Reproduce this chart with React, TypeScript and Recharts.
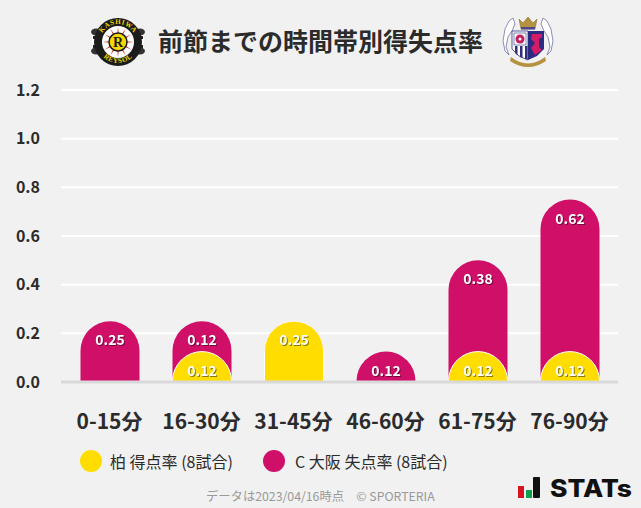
import { BarChart, Bar, XAxis, YAxis, CartesianGrid, LabelList } from "recharts";

const FONT = '"Noto Sans CJK JP", "Noto Sans", sans-serif';

const categories = ["0-15分", "16-30分", "31-45分", "46-60分", "61-75分", "76-90分"];
const kashiwaRate = [0, 0.125, 0.25, 0, 0.125, 0.125];
const osakaRate = [0.25, 0.125, 0, 0.125, 0.375, 0.625];
const kashiwaLabels = ["", "0.12", "0.25", "", "0.12", "0.12"];
const osakaLabels = ["0.25", "0.12", "", "0.12", "0.38", "0.62"];
const yTicks = [0, 0.2, 0.4, 0.6, 0.8, 1.0, 1.2];

const YELLOW = "#ffdd00";
const MAGENTA = "#cf0f68";
const BAR_WIDTH = 59;

// osaka bar runs from zero behind the yellow one, so it holds the stacked total
const rows = categories.map((name, i) => ({
  name,
  kashiwa: kashiwaRate[i],
  total: kashiwaRate[i] + osakaRate[i],
  kashiwaLabel: kashiwaLabels[i],
  osakaLabel: osakaLabels[i],
}));

const BarLabel = (props: any) => {
  const { x, y, width, value } = props;
  if (!value) return null;
  return (
    <text
      x={x + width / 2}
      y={y + 24}
      textAnchor="middle"
      fontFamily={FONT}
      fontSize={14}
      fontWeight={700}
      fill="#fff"
      style={{ filter: "drop-shadow(1px 1px 0.5px rgba(0,0,0,0.45))" }}
    >
      {value}
    </text>
  );
};

const BarTop = (props: any) => {
  const { x, y, width, height, fill, stroke } = props;
  if (!height || height <= 0) return null;
  const r = Math.min(width / 2, height);
  const rx = width / 2;
  return (
    <path
      d={`M${x},${y + height}V${y + r}A${rx},${r} 0 0 1 ${x + width},${y + r}V${y + height}`}
      fill={fill}
      stroke={stroke}
      strokeWidth={stroke ? 1 : 0}
    />
  );
};

const rayAngles = [0, 30, 60, 90, 120, 150, 180, 210, 240, 270, 300, 330];

const KashiwaLogo = () => (
  <svg width={56} height={50} viewBox="0 0 56 50" style={{ position: "absolute", left: 90, top: 17 }}>
    <rect x={2} y={17} width={52} height={16} fill="#fff" />
    <ellipse cx={6} cy={15} rx={5} ry={3.5} fill="#333" />
    <ellipse cx={50} cy={15} rx={5} ry={3.5} fill="#333" />
    <ellipse cx={6} cy={34} rx={5} ry={3.5} fill="#333" />
    <ellipse cx={50} cy={34} rx={5} ry={3.5} fill="#333" />
    <rect x={3} y={19} width={50} height={3} fill="#222" />
    <rect x={3} y={28} width={50} height={3} fill="#222" />
    <circle cx={28} cy={25} r={24} fill="#1c1c1c" />
    <path id="kashiwaTop" d="M10,25 A18,18 0 0 1 46,25" fill="none" />
    <path id="kashiwaBottom" d="M7,25 A21,21 0 0 0 49,25" fill="none" />
    <text fontFamily="Liberation Serif" fontWeight={700} fontSize={7} fill="#f5d800" letterSpacing={0.6}>
      <textPath href="#kashiwaTop" startOffset="50%" textAnchor="middle">KASHIWA</textPath>
    </text>
    <text fontFamily="Liberation Serif" fontWeight={700} fontSize={7} fill="#f5d800" letterSpacing={0.6}>
      <textPath href="#kashiwaBottom" startOffset="50%" textAnchor="middle">REYSOL</textPath>
    </text>
    <circle cx={28} cy={25} r={16} fill="#fff" />
    {rayAngles.map((a) => (
      <path key={a} d="M26.5,25 L28,9.5 L29.5,25 Z" fill="#c8281e" transform={`rotate(${a} 28 25)`} />
    ))}
    <circle cx={28} cy={25} r={9} fill="#f5d800" stroke="#1c1c1c" strokeWidth={1.5} />
    <text x={28} y={30} textAnchor="middle" fontFamily="Liberation Serif" fontWeight={700} fontSize={14} fill="#1c1c1c">R</text>
  </svg>
);

const OsakaLogo = () => (
  <svg width={52} height={54} viewBox="0 0 52 54" style={{ position: "absolute", left: 502, top: 15 }}>
    <path d="M7,6 L11,3 L13,9 L10,16 L6,22 L4,32 L7,40 L3,36 L1,26 L3,14 Z" fill="#fff" stroke="#6f73a8" strokeWidth={0.8} />
    <path d="M45,6 L41,3 L39,9 L42,16 L46,22 L48,32 L45,40 L49,36 L51,26 L49,14 Z" fill="#fff" stroke="#6f73a8" strokeWidth={0.8} />
    <path d="M17,4 L21,8 L26,2 L31,8 L35,4 L33,14 H19 Z" fill="#b4923f" stroke="#7d6528" strokeWidth={0.5} />
    <rect x={19} y={12} width={14} height={2.5} fill="#4a4a8a" />
    <path d="M10,16 H26 V45 L17,41 L10,34 Z" fill="#fff" stroke="#30307f" strokeWidth={0.8} />
    <rect x={12} y={18} width={12} height={12} fill="#fff" stroke="#30307f" strokeWidth={0.6} />
    <circle cx={18} cy={24} r={4.5} fill="#c41f63" />
    <circle cx={18} cy={24} r={1.5} fill="#fff" />
    <path d="M13,31 H15.5 V40.5 L13,38 Z M18,31 H20.5 V43 L18,42 Z M23,31 H25.5 V44.5 L23,44 Z" fill="#30307f" />
    <path d="M26,16 H42 V34 L35,41 L26,45 Z" fill="#2b2b83" />
    <path d="M30,19 H40 V22 L37,24 V32 L40,35 L33,40 L29,33 L33,28 L29,24 Z" fill="#d21c66" />
    <path d="M9,42 Q26,55 43,42 L44,46 Q26,58 8,46 Z" fill="#b4923f" />
  </svg>
);

const StatsLogo = () => (
  <svg width={120} height={24} viewBox="0 0 120 24" style={{ position: "absolute", left: 517, top: 476 }}>
    <rect x={1} y={10} width={6} height={12} fill="#d8131f" />
    <rect x={9} y={14} width={6} height={8} fill="#0e9f4d" />
    <rect x={16} y={1} width={7} height={21} rx={1} fill="#111" />
    <text x={33} y={21} fontFamily="Inter, sans-serif" fontWeight={800} fontSize={24} fill="#111" textLength={82} lengthAdjust="spacingAndGlyphs">STATs</text>
  </svg>
);

const LegendDot = ({ left, color }: { left: number; color: string }) => (
  <div style={{ position: "absolute", left, top: 450, width: 22, height: 22, borderRadius: 11, background: color }} />
);

const Overlay = ({ left, top, size, color, weight, children }: any) => (
  <div
    style={{
      position: "absolute",
      left,
      top,
      fontFamily: FONT,
      fontSize: size,
      color,
      fontWeight: weight,
      lineHeight: 1,
      whiteSpace: "nowrap",
    }}
  >
    {children}
  </div>
);

const App = () => {
  return (
    <div style={{ position: "absolute", left: 0, top: 0, width: 641, height: 508, background: "#f1f1f1", overflow: "hidden" }}>
      <KashiwaLogo />
      <Overlay left={158} top={28} size={25} color="#2b2b2b" weight={700}>前節までの時間帯別得失点率</Overlay>
      <OsakaLogo />
      <div style={{ position: "absolute", left: 0, top: 0 }}>
        <BarChart
          width={641}
          height={470}
          data={rows}
          barGap={-BAR_WIDTH}
          barSize={BAR_WIDTH}
          margin={{ top: 90, right: 23, bottom: 58, left: 0 }}
        >
          <CartesianGrid vertical={false} stroke="#fff" strokeWidth={2} />
          <XAxis
            dataKey="name"
            axisLine={{ stroke: "#d9d9d9", strokeWidth: 3 }}
            tickLine={false}
            interval={0}
            padding={{ left: 2.5, right: 2.5 }}
            tickMargin={26}
            tick={{ fontFamily: FONT, fontSize: 21, fontWeight: 700, fill: "#2b2b2b" }}
          />
          <YAxis
            width={61}
            domain={[0, 1.2]}
            ticks={yTicks}
            axisLine={false}
            tickLine={false}
            tickFormatter={(v: number) => v.toFixed(1)}
            tickMargin={15}
            tick={{ fontFamily: FONT, fontSize: 16, fontWeight: 700, fill: "#2b2b2b" }}
          />
          <Bar dataKey="total" fill={MAGENTA} shape={<BarTop />} isAnimationActive={false}>
            <LabelList dataKey="osakaLabel" content={<BarLabel />} />
          </Bar>
          <Bar dataKey="kashiwa" fill={YELLOW} stroke="#fff" shape={<BarTop />} isAnimationActive={false}>
            <LabelList dataKey="kashiwaLabel" content={<BarLabel />} />
          </Bar>
        </BarChart>
      </div>
      <LegendDot left={80} color={YELLOW} />
      <Overlay left={110} top={453} size={16} color="#2b2b2b" weight={400}>柏 得点率 (8試合)</Overlay>
      <LegendDot left={263} color={MAGENTA} />
      <Overlay left={295} top={453} size={16} color="#2b2b2b" weight={400}>C 大阪 失点率 (8試合)</Overlay>
      <Overlay left={206} top={490} size={12.3} color="#999" weight={400}>データは2023/04/16時点　© SPORTERIA</Overlay>
      <StatsLogo />
    </div>
  );
};

export default App;
